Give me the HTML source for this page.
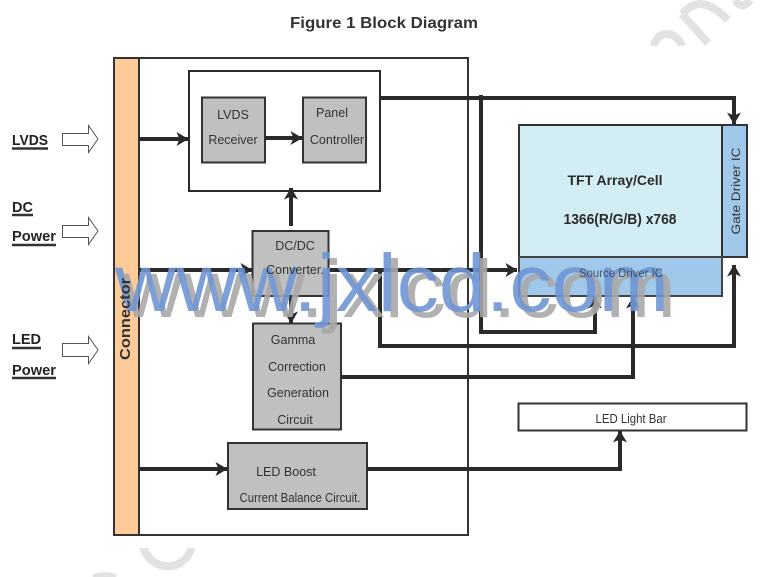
<!DOCTYPE html>
<html><head><meta charset="utf-8"><style>
html,body{margin:0;padding:0;background:#fff}
svg{display:block}
text{font-family:"Liberation Sans",sans-serif}
.l{font-size:12.500px;fill:#333}
.b{font-size:15px;font-weight:bold;fill:#222}
</style></head><body>
<svg width="783" height="577" viewBox="0 0 783 577" xmlns="http://www.w3.org/2000/svg">
<defs>
<marker id="a" viewBox="0 0 12 14" refX="11.500" refY="7" markerWidth="12" markerHeight="14" markerUnits="userSpaceOnUse" orient="auto"><path d="M0 0L12 7L0 14L3 7Z" fill="#2a2a2a"/></marker>
<clipPath id="tr"><rect x="640" y="0" width="143" height="46"/></clipPath>
<clipPath id="bl"><rect x="80" y="548" width="130" height="29"/></clipPath>
</defs>
<!-- corner watermark -->
<g fill="none" stroke="#e2e2e2" stroke-width="8" clip-path="url(#tr)">
<path d="M654 46C657 30 676 30 682 46"/>
<path d="M682 14L708 43M682 14C695 0 708 0 728 20"/>
<path d="M736 0C738 7 746 7 750 0"/>
</g>
<g fill="none" stroke="#e2e2e2" stroke-width="8" clip-path="url(#bl)">
<path d="M143 546C150 573 186 573 192 546"/>
<path d="M93 577C100 574 110 574 116 577" stroke-width="5"/>
</g>
<text x="290" y="28" textLength="188" lengthAdjust="spacingAndGlyphs" style="font-size:16px;font-weight:bold;fill:#333">Figure 1 Block Diagram</text>
<!-- left labels -->
<g class="b">
<text class="b" x="12" y="145" textLength="36" lengthAdjust="spacingAndGlyphs">LVDS</text><path d="M12 148.500H48" stroke="#333" stroke-width="2.500"/>
<text class="b" x="12" y="212" textLength="21" lengthAdjust="spacingAndGlyphs">DC</text><path d="M12 215H33" stroke="#333" stroke-width="2.500"/>
<text class="b" x="12" y="241" textLength="44" lengthAdjust="spacingAndGlyphs">Power</text><path d="M12 245H56" stroke="#333" stroke-width="2.500"/>
<text class="b" x="12" y="344" textLength="29" lengthAdjust="spacingAndGlyphs">LED</text><path d="M12 348H41" stroke="#333" stroke-width="2.500"/>
<text class="b" x="12" y="375" textLength="44" lengthAdjust="spacingAndGlyphs">Power</text><path d="M12 378H56" stroke="#333" stroke-width="2.500"/>
</g>
<g fill="#fff" stroke="#555" stroke-width="1">
<path d="M62.500 133.500H88.500V125.500L98 139L88.500 152.500V145.500H62.500Z"/>
<path d="M62.500 225.500H88.500V217.500L98 231L88.500 244.500V237.500H62.500Z"/>
<path d="M62.500 343.500H88.500V336.500L98 350L88.500 363.500V356.500H62.500Z"/>
</g>
<!-- outer box -->
<rect x="114" y="58" width="354" height="477" fill="#fff" stroke="#333" stroke-width="2"/>
<rect x="114" y="58" width="25" height="477" fill="#fdcb98" stroke="#333" stroke-width="2"/>
<!-- TFT -->
<rect x="519" y="125" width="203" height="132" fill="#d3edf5" stroke="#333" stroke-width="2"/>
<rect x="722" y="125" width="25" height="132" fill="#9fc8ea" stroke="#333" stroke-width="2"/>
<rect x="519" y="257" width="203" height="39" fill="#9fc8ea" stroke="#444" stroke-width="2"/>
<text x="615" y="185" text-anchor="middle" style="font-size:14px;font-weight:bold;fill:#2b2b2b" textLength="95" lengthAdjust="spacingAndGlyphs">TFT Array/Cell</text>
<text x="620" y="224" text-anchor="middle" style="font-size:15px;font-weight:bold;fill:#2b2b2b" textLength="113" lengthAdjust="spacingAndGlyphs">1366(R/G/B) x768</text>
<text transform="translate(740,191) rotate(-90)" text-anchor="middle" style="font-size:11.500px;fill:#333" textLength="87" lengthAdjust="spacingAndGlyphs">Gate Driver IC</text>
<!-- light bar -->
<rect x="518.500" y="403.500" width="228" height="27" fill="#fff" stroke="#333" stroke-width="2"/>
<text x="631" y="423" text-anchor="middle" class="l" textLength="71" lengthAdjust="spacingAndGlyphs">LED Light Bar</text>
<!-- boxes -->
<rect x="189" y="71" width="191" height="120" fill="#fff" stroke="#2a2a2a" stroke-width="2"/>
<g fill="#c0c0c0" stroke="#333" stroke-width="2">
<rect x="202" y="97.500" width="63" height="65"/>
<rect x="303" y="97.500" width="63" height="65"/>
<rect x="252.500" y="231" width="76" height="65"/>
<rect x="253" y="323.500" width="88" height="106"/>
<rect x="228" y="443" width="139" height="66"/>
</g>
<!-- connectors -->
<g fill="none" stroke="#2a2a2a" stroke-width="4">
<path d="M139 139H188" marker-end="url(#a)"/>
<path d="M266 138H302" marker-end="url(#a)"/>
<path d="M291 226V188" marker-end="url(#a)"/>
<path d="M139 270H252" stroke-width="4" marker-end="url(#a)"/>
<path d="M329 270H517" marker-end="url(#a)"/>
<path d="M291 296V323" marker-end="url(#a)"/>
<path d="M381 98H734V124" marker-end="url(#a)"/>
<path d="M481 95V332H595V297" marker-end="url(#a)"/>
<path d="M380 270V346H734V265" marker-end="url(#a)"/>
<path d="M341 377H633V297" marker-end="url(#a)"/>
<path d="M139 469H227" marker-end="url(#a)"/>
<path d="M367 469H620V431" marker-end="url(#a)"/>
</g>
<!-- big watermark -->
<text x="122" y="317" textLength="554" lengthAdjust="spacingAndGlyphs" style="font-size:82px;fill:#a9a9a9;fill-opacity:.9">www.jxlcd.com</text>
<text x="115" y="311" textLength="554" lengthAdjust="spacingAndGlyphs" style="font-size:82px;fill:#6f96d4;fill-opacity:.9">www.jxlcd.com</text>
<!-- labels drawn above the watermark -->
<g>
<text transform="translate(130,319) rotate(-90)" text-anchor="middle" textLength="82" lengthAdjust="spacingAndGlyphs" style="font-size:15px;font-weight:bold;fill:#333">Connector</text>
<text class="l" x="233" y="119" text-anchor="middle">LVDS</text>
<text class="l" x="233" y="144" text-anchor="middle">Receiver</text>
<text class="l" x="332" y="117" text-anchor="middle">Panel</text>
<text class="l" x="337" y="144" text-anchor="middle">Controller</text>
<text class="l" x="295" y="250" text-anchor="middle">DC/DC</text>
<text class="l" x="295" y="274" text-anchor="middle">Converter.</text>
<text class="l" x="293" y="344" text-anchor="middle">Gamma</text>
<text class="l" x="297" y="371" text-anchor="middle">Correction</text>
<text class="l" x="298" y="397" text-anchor="middle">Generation</text>
<text class="l" x="295" y="424" text-anchor="middle">Circuit</text>
<text class="l" x="286" y="476" text-anchor="middle">LED Boost</text>
<text class="l" x="300" y="502" text-anchor="middle" textLength="121" lengthAdjust="spacingAndGlyphs">Current Balance Circuit.</text>
<text x="621" y="277" text-anchor="middle" style="font-size:11.500px;fill:#333;fill-opacity:.75" textLength="84" lengthAdjust="spacingAndGlyphs">Source Driver IC</text>
</g>
</svg>
</body></html>
